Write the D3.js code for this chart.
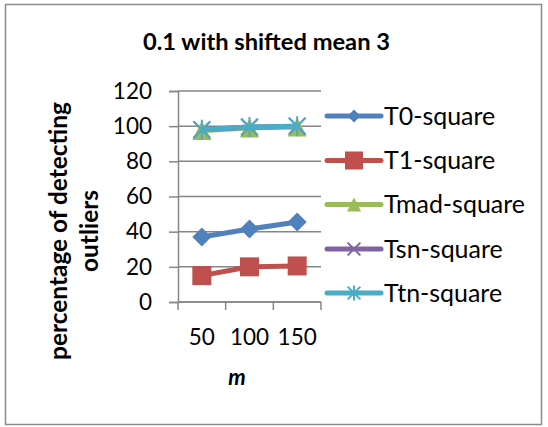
<!DOCTYPE html>
<html>
<head>
<meta charset="utf-8">
<script src="https://cdn.jsdelivr.net/npm/d3@7"></script>
<style>
  html, body { margin: 0; padding: 0; background: #fff; }
  svg { display: block; }
  text { font-family: Lato, "Open Sans", "Liberation Sans", sans-serif; fill: #000; }
</style>
</head>
<body>
<svg id="chart" width="548" height="427"></svg>
<script>
// Sample sizes on the x axis
const categories = ["50", "100", "150"];
// Percentage of detected outliers per test statistic
const seriesNames = ["T0-square", "T1-square", "Tmad-square", "Tsn-square", "Ttn-square"];
const t0Values   = [37, 41.5, 45.5];
const t1Values   = [15, 20, 20.5];
const tmadValues = [97.5, 99, 99.5];
const tsnValues  = [98, 99.5, 100];
const ttnValues  = [98, 99.5, 100];
const yTicks = [0, 20, 40, 60, 80, 100, 120];

const colors = ["#4F81BD", "#C0504D", "#9BBB59", "#8064A2", "#4BACC6"];
const markers = ["diamond", "square", "triangle", "x", "star"];
const seriesValues = [t0Values, t1Values, tmadValues, tsnValues, ttnValues];
const series = seriesNames.map((name, i) => ({
  name, color: colors[i], marker: markers[i], values: seriesValues[i]
}));

const svg = d3.select("#chart");
const axisColor = "#868686";

// Outer chart frame
svg.append("rect")
  .attr("x", 5.5).attr("y", 4.5).attr("width", 536).attr("height", 420)
  .attr("fill", "#fff").attr("stroke", "#8c8c8c").attr("stroke-width", 1.5);

const plot = { left: 178, right: 321, top: 91, bottom: 302 };

const x = d3.scaleBand().domain(categories).range([plot.left, plot.right]).padding(0);
const y = d3.scaleLinear().domain([0, 120]).range([plot.bottom, plot.top]);

// Size text so it fills a given width
function fitText(sel, width, start) {
  let size = start;
  sel.style("font-size", size + "px");
  const w = sel.node().getComputedTextLength();
  size = size * width / w;
  sel.style("font-size", size.toFixed(2) + "px");
  return size;
}

// Title
const title = svg.append("text")
  .attr("x", 266.5).attr("y", 50)
  .attr("text-anchor", "middle")
  .style("font-weight", "bold")
  .text("0.1 with shifted mean 3");
fitText(title, 247, 20);

// Horizontal gridlines
svg.append("g")
  .selectAll("line")
  .data(yTicks)
  .join("line")
  .attr("x1", plot.left).attr("x2", plot.right)
  .attr("y1", d => y(d)).attr("y2", d => y(d))
  .attr("stroke", axisColor).attr("stroke-width", 1.5);

// Y axis
const yAxis = svg.append("g")
  .attr("transform", `translate(${plot.left},0)`)
  .call(d3.axisLeft(y).tickValues(yTicks).tickSize(9).tickPadding(17).tickFormat(d3.format("d")));
yAxis.select(".domain").attr("stroke", axisColor).attr("stroke-width", 1.5);
yAxis.selectAll(".tick line").attr("stroke", axisColor).attr("stroke-width", 1.5);
yAxis.selectAll(".tick text")
  .attr("fill", "#000")
  .style("font-family", "Lato, 'Open Sans', sans-serif")
  .style("font-size", "22.5px");

// X axis: line with tick marks on category boundaries
const xAxis = svg.append("g");
xAxis.append("line")
  .attr("x1", plot.left).attr("x2", plot.right)
  .attr("y1", plot.bottom).attr("y2", plot.bottom)
  .attr("stroke", axisColor).attr("stroke-width", 1.5);
const boundaries = categories.map(c => x(c)).concat([x(categories[categories.length - 1]) + x.bandwidth()]);
xAxis.selectAll("line.tick")
  .data(boundaries)
  .join("line")
  .attr("class", "tick")
  .attr("x1", d => d).attr("x2", d => d)
  .attr("y1", plot.bottom).attr("y2", plot.bottom + 8)
  .attr("stroke", axisColor).attr("stroke-width", 1.5);
xAxis.selectAll("text")
  .data(categories)
  .join("text")
  .attr("x", d => x(d) + x.bandwidth() / 2)
  .attr("y", 345)
  .attr("text-anchor", "middle")
  .style("font-size", "22.5px")
  .text(d => d);

// X axis title
svg.append("text")
  .attr("x", 237).attr("y", 385)
  .attr("text-anchor", "middle")
  .style("font-weight", "bold").style("font-style", "italic")
  .style("font-size", "22px")
  .text("m");

// Y axis title (two lines, rotated)
const yTitle1 = svg.append("text")
  .attr("transform", "translate(67,231) rotate(-90)")
  .attr("text-anchor", "middle")
  .style("font-weight", "bold")
  .text("percentage of detecting");
fitText(yTitle1, 258, 20);
const yTitle2 = svg.append("text")
  .attr("transform", "translate(98,231) rotate(-90)")
  .attr("text-anchor", "middle")
  .style("font-weight", "bold")
  .text("outliers");
yTitle2.style("font-size", yTitle1.style("font-size"));

// Marker drawing
function drawMarker(g, type, color, size) {
  const h = size / 2;
  if (type === "diamond") {
    g.append("path").attr("d", `M0,${-h}L${h},0L0,${h}L${-h},0Z`).attr("fill", color);
  } else if (type === "square") {
    g.append("rect").attr("x", -h).attr("y", -h).attr("width", size).attr("height", size).attr("fill", color);
  } else if (type === "triangle") {
    g.append("path").attr("d", `M0,${-h}L${h},${h}L${-h},${h}Z`).attr("fill", color);
  } else if (type === "x") {
    const k = h * 0.85;
    g.append("path").attr("d", `M${-k},${-k}L${k},${k}M${-k},${k}L${k},${-k}`)
      .attr("stroke", color).attr("stroke-width", 2).attr("fill", "none");
  } else if (type === "star") {
    const k = h * 0.85;
    g.append("path").attr("d", `M${-k},${-k}L${k},${k}M${-k},${k}L${k},${-k}M0,${-h}L0,${h}`)
      .attr("stroke", color).attr("stroke-width", 2).attr("fill", "none");
  }
}

const markerSize = { diamond: 19, square: 19, triangle: 19, x: 19, star: 20 };
const cx = d => x(d) + x.bandwidth() / 2;
const line = d3.line().x(d => cx(d.cat)).y(d => y(d.v));

// Series lines and markers
series.forEach(s => {
  const pts = s.values.map((v, i) => ({ cat: categories[i], v }));
  const g = svg.append("g");
  g.append("path")
    .datum(pts)
    .attr("d", line)
    .attr("fill", "none")
    .attr("stroke", s.color)
    .attr("stroke-width", 5)
    .attr("stroke-linejoin", "round");
  pts.forEach(p => {
    const m = g.append("g").attr("transform", `translate(${cx(p.cat)},${y(p.v)})`);
    drawMarker(m, s.marker, s.color, markerSize[s.marker]);
  });
});

// Legend
const legendY = [116, 160.5, 204.5, 249, 293];
const legendSize = { diamond: 13, square: 18, triangle: 14, x: 15, star: 15 };
const legend = svg.append("g");
const legendTexts = [];
series.forEach((s, i) => {
  const g = legend.append("g").attr("transform", `translate(0,${legendY[i]})`);
  g.append("line")
    .attr("x1", 327).attr("x2", 381)
    .attr("stroke", s.color).attr("stroke-width", 5).attr("stroke-linecap", "round");
  const m = g.append("g").attr("transform", "translate(354,0)");
  drawMarker(m, s.marker, s.color, legendSize[s.marker]);
  legendTexts.push(g.append("text")
    .attr("x", 384).attr("y", 0).attr("dy", "0.35em")
    .text(s.name));
});
const legendFont = fitText(legendTexts[2], 141, 22);
legendTexts.forEach(t => t.style("font-size", legendFont.toFixed(2) + "px"));
</script>
</body>
</html>
